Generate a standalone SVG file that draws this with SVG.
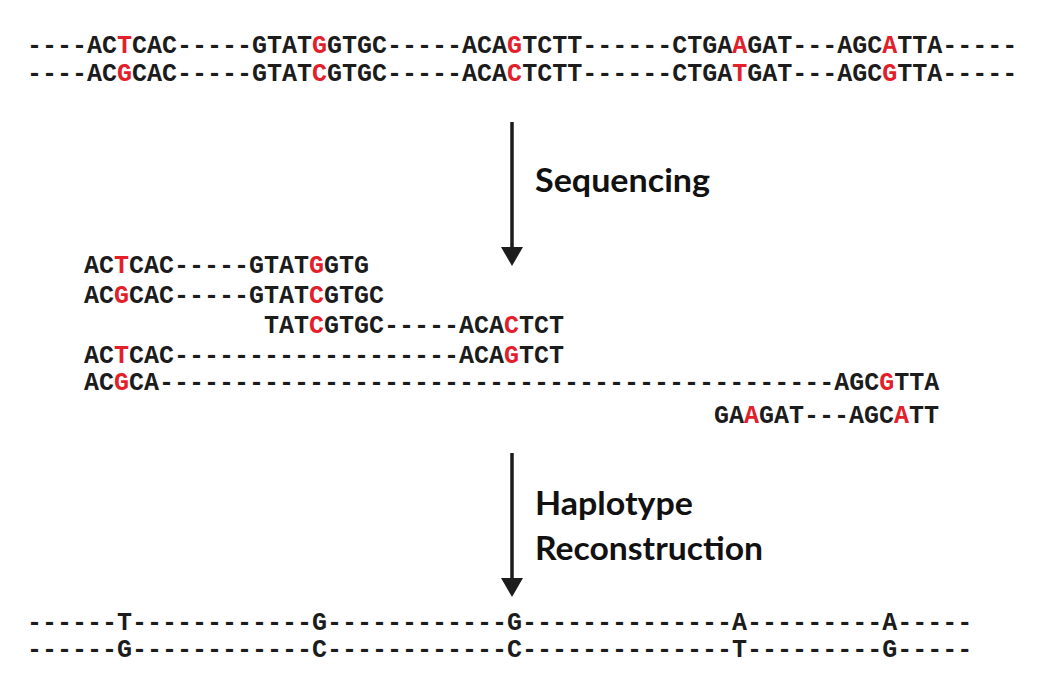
<svg xmlns="http://www.w3.org/2000/svg" width="1046" height="697" viewBox="0 0 1046 697">
<defs>
<style>
.seq{font-family:"Liberation Mono","Courier New",monospace;font-size:25px;font-weight:bold;fill:#1c1c1c;white-space:pre}
.r{fill:#e3202a}
.lbl{font-family:Lato,"Open Sans",sans-serif;font-size:32px;font-weight:bold;fill:#111}
.shaft{stroke:#1c1c1c;stroke-width:3.5;fill:none}
</style>
<marker id="ah" markerWidth="19" markerHeight="22" refX="0" refY="11" orient="auto" markerUnits="userSpaceOnUse" viewBox="0 0 19 22">
<path d="M0,0 L19,11 L0,22 Z" fill="#1c1c1c"/>
</marker>
</defs>
<rect width="1046" height="697" fill="#fff"/>
<g id="haplotypes-original">
<text class="seq" x="27" y="53" xml:space="preserve">----AC<tspan class="r">T</tspan>CAC-----GTAT<tspan class="r">G</tspan>GTGC-----ACA<tspan class="r">G</tspan>TCTT------CTGA<tspan class="r">A</tspan>GAT---AGC<tspan class="r">A</tspan>TTA-----</text>
<text class="seq" x="27" y="81" xml:space="preserve">----AC<tspan class="r">G</tspan>CAC-----GTAT<tspan class="r">C</tspan>GTGC-----ACA<tspan class="r">C</tspan>TCTT------CTGA<tspan class="r">T</tspan>GAT---AGC<tspan class="r">G</tspan>TTA-----</text>
</g>
<g id="reads">
<text class="seq" x="84" y="273" xml:space="preserve">AC<tspan class="r">T</tspan>CAC-----GTAT<tspan class="r">G</tspan>GTG</text>
<text class="seq" x="84" y="303" xml:space="preserve">AC<tspan class="r">G</tspan>CAC-----GTAT<tspan class="r">C</tspan>GTGC</text>
<text class="seq" x="264" y="333" xml:space="preserve">TAT<tspan class="r">C</tspan>GTGC-----ACA<tspan class="r">C</tspan>TCT</text>
<text class="seq" x="84" y="363" xml:space="preserve">AC<tspan class="r">T</tspan>CAC-------------------ACA<tspan class="r">G</tspan>TCT</text>
<text class="seq" x="84" y="390" xml:space="preserve">AC<tspan class="r">G</tspan>CA---------------------------------------------AGC<tspan class="r">G</tspan>TTA</text>
<text class="seq" x="714" y="423" xml:space="preserve">GA<tspan class="r">A</tspan>GAT---AGC<tspan class="r">A</tspan>TT</text>
</g>
<g id="haplotypes-reconstructed">
<text class="seq" x="27" y="630" xml:space="preserve">------T------------G------------G--------------A---------A-----</text>
<text class="seq" x="27" y="657" xml:space="preserve">------G------------C------------C--------------T---------G-----</text>
</g>
<g id="connectors">
<line class="shaft" x1="512" y1="122" x2="512" y2="247" marker-end="url(#ah)"/>
<line class="shaft" x1="512" y1="453" x2="512" y2="578" marker-end="url(#ah)"/>
</g>
<g id="labels">
<text class="lbl" x="535" y="192" textLength="175" lengthAdjust="spacingAndGlyphs">Sequencing</text>
<text class="lbl" x="535" y="515" textLength="158" lengthAdjust="spacingAndGlyphs">Haplotype</text>
<text class="lbl" x="535" y="560" textLength="228" lengthAdjust="spacingAndGlyphs">Reconstruction</text>
</g>
</svg>
